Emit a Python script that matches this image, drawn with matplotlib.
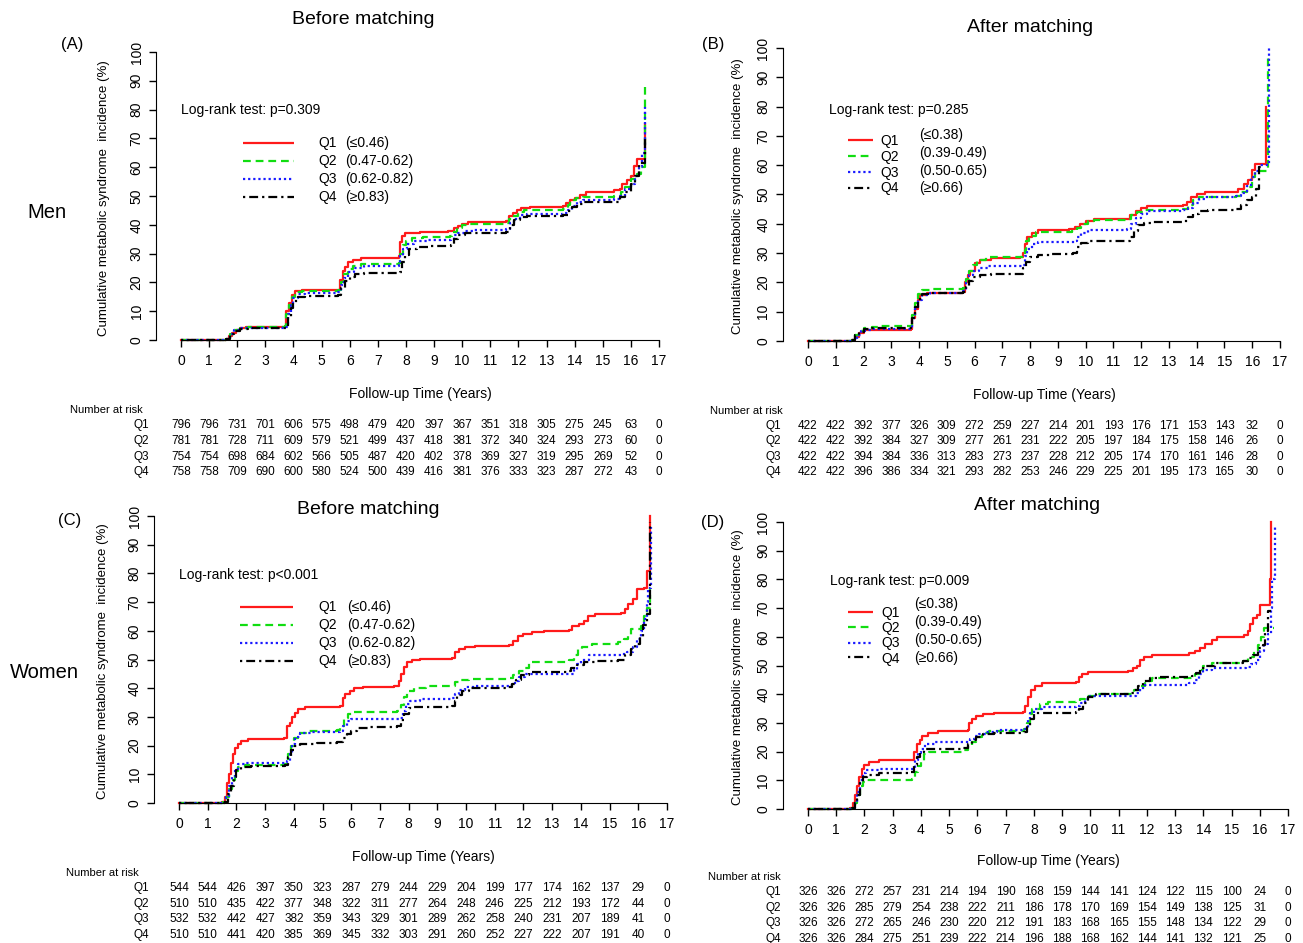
import matplotlib
matplotlib.use("Agg")
import matplotlib.pyplot as plt
from matplotlib.lines import Line2D
from matplotlib.transforms import blended_transform_factory

plt.rcParams['font.family'] = ['Liberation Sans', 'DejaVu Sans']

# ---------------- data ----------------
years = list(range(18))
groups = ["Q1", "Q2", "Q3", "Q4"]
ranges_before = ["(\u22640.46)", "(0.47-0.62)", "(0.62-0.82)", "(\u22650.83)"]
ranges_after = ["(\u22640.38)", "(0.39-0.49)", "(0.50-0.65)", "(\u22650.66)"]

# (A) men, before matching: (time, cumulative incidence %)
men_before_q1 = [(0,0),(1.6,0.5),(1.7,1.5),(1.8,2.5),(1.95,3.5),(2.1,4.2),(2.3,4.5),(3.7,4.8),(3.75,10),(3.85,13),(3.95,15.5),(4.05,17),(4.3,17.3),(5.6,17.5),(5.65,21),(5.75,24),(5.85,25.5),(5.95,27),(6.1,27.8),(6.4,28.5),(7.75,29),(7.8,34),(7.85,36),(7.95,37),(8.1,37.3),(8.5,37.6),(9.5,38),(9.7,38.8),(9.85,39.5),(10.0,40.3),(10.2,41),(11.55,41.3),(11.65,43),(11.8,44),(11.95,45),(12.1,45.8),(12.4,46.3),(13.6,46.6),(13.7,47.5),(13.85,48.5),(14.0,49.3),(14.2,50.3),(14.4,51.5),(15.4,52),(15.6,52.5),(15.7,54),(15.85,55.5),(16.0,57),(16.1,60.5),(16.2,63),(16.5,75)]
men_before_q2 = [(0,0),(1.6,0.5),(1.75,2),(1.9,3.5),(2.1,4.2),(2.4,4.4),(3.7,4.7),(3.75,9),(3.85,12),(3.95,15),(4.05,16.5),(4.3,17),(5.6,17.3),(5.7,20),(5.8,23),(5.95,24.8),(6.1,25.8),(6.4,26.3),(7.75,26.8),(7.8,30),(7.9,33),(8.0,34.5),(8.2,35.3),(8.6,35.6),(9.55,36),(9.65,37.5),(9.8,38.8),(10.0,39.8),(10.2,40.3),(11.55,40.6),(11.65,42),(11.8,43),(12.0,44.3),(12.2,45),(13.6,45.4),(13.75,47),(13.85,48.5),(14.05,49.3),(14.3,49.7),(15.4,50),(15.65,51.5),(15.8,53),(16.0,56),(16.2,57.5),(16.35,60),(16.5,88)]
men_before_q3 = [(0,0),(1.6,0.5),(1.75,2),(1.9,3.3),(2.1,4),(2.4,4.2),(3.7,4.4),(3.8,9),(3.9,12),(4.0,14.5),(4.15,15.8),(4.4,16.2),(5.6,16.5),(5.7,19),(5.8,21.5),(5.95,23.5),(6.15,25),(6.5,25.6),(7.75,26),(7.8,29),(7.9,31.5),(8.05,33.5),(8.3,34.3),(8.8,34.7),(9.6,35.2),(9.7,36.5),(9.85,37.3),(10.1,38),(10.4,38.3),(11.55,38.6),(11.7,40.5),(11.85,42),(12.05,43.3),(12.3,43.8),(13.6,44),(13.75,45),(13.9,46.5),(14.1,47.8),(14.3,48.5),(15.4,49),(15.6,50),(15.8,52.5),(16.0,54),(16.15,57),(16.3,60),(16.4,65),(16.5,81)]
men_before_q4 = [(0,0),(1.6,0.5),(1.75,2),(1.9,3.2),(2.1,3.8),(2.4,4),(3.7,4.1),(3.8,8),(3.9,11),(4.0,13.5),(4.15,15),(4.4,15.3),(5.6,15.5),(5.7,18),(5.85,20.5),(6.0,22),(6.2,23),(6.5,23.4),(7.8,23.7),(7.85,27),(7.95,29.5),(8.1,31.5),(8.4,32.3),(8.8,32.6),(9.6,33),(9.7,35),(9.85,36.3),(10.1,37),(10.4,37.3),(11.55,37.5),(11.7,40),(11.85,41.8),(12.05,42.8),(12.3,43.2),(13.6,43.5),(13.75,44.8),(13.9,46.3),(14.1,47.3),(14.3,47.8),(15.4,48),(15.6,49.5),(15.8,51.5),(16.0,54),(16.15,57),(16.3,61.5),(16.5,70)]

# (B) men, after matching
men_after_q1 = [(0,0),(1.6,0.5),(1.7,1.5),(1.85,2.8),(2.0,3.6),(2.3,3.9),(3.7,4.1),(3.75,8),(3.85,11),(3.95,14),(4.05,15.8),(4.3,16.5),(5.6,16.8),(5.65,20),(5.75,22.5),(5.85,24),(6.0,26.5),(6.2,27.8),(6.6,28.2),(7.65,28.5),(7.75,30),(7.8,33),(7.9,35.5),(8.05,37),(8.3,37.8),(9.4,38.2),(9.6,38.8),(9.8,39.8),(10.0,40.8),(10.3,41.5),(11.5,41.8),(11.6,43),(11.8,44.3),(12.0,45.5),(12.2,46.2),(13.5,46.5),(13.65,47.5),(13.8,49),(14.0,50.2),(14.3,50.8),(15.2,51),(15.5,52),(15.7,53.5),(15.85,55),(16.0,58.5),(16.1,60.5),(16.5,80)]
men_after_q2 = [(0,0),(1.6,0.5),(1.7,2),(1.85,3.5),(2.0,4.3),(2.3,4.8),(2.6,5),(3.7,5.2),(3.75,9),(3.85,13),(3.95,16),(4.1,17.5),(4.5,17.8),(5.6,18.2),(5.7,21),(5.8,24),(5.95,26),(6.1,27.7),(6.4,28.5),(7.7,28.7),(7.8,31),(7.85,34),(7.95,36),(8.2,37.2),(9.5,37.5),(9.7,38.5),(9.85,40),(10.1,41),(10.3,41.3),(11.5,41.5),(11.65,43),(11.85,44),(12.1,44.8),(13.5,45.2),(13.7,46.5),(13.85,48),(14.1,49.2),(15.4,49.5),(15.6,51),(15.8,52.5),(16.0,56),(16.1,58),(16.55,98)]
men_after_q3 = [(0,0),(1.6,0.5),(1.75,2),(1.9,3.3),(2.05,3.9),(2.3,4.1),(3.7,4.3),(3.75,8),(3.85,11),(3.95,14),(4.1,15.8),(4.4,16.5),(5.6,17),(5.7,20),(5.8,22.5),(5.95,24),(6.15,25),(6.5,25.5),(7.7,25.8),(7.8,29),(7.9,31.5),(8.05,33),(8.3,33.8),(9.6,34.2),(9.7,35.5),(9.85,37),(10.1,37.8),(11.5,38.2),(11.65,40),(11.8,42),(12.0,43.5),(12.2,44.3),(13.5,44.6),(13.7,45.5),(13.85,47),(14.1,48.5),(14.3,49.2),(15.4,49.4),(15.6,50.5),(15.8,53),(15.95,56),(16.1,58),(16.25,60),(16.6,100)]
men_after_q4 = [(0,0),(1.55,0.5),(1.7,2),(1.85,3.2),(2.0,4),(2.3,4.5),(3.7,4.6),(3.75,8),(3.85,11.5),(3.95,14.5),(4.1,16),(4.4,16.3),(5.6,16.6),(5.7,18.5),(5.8,20.5),(5.95,21.8),(6.2,22.4),(6.6,22.7),(7.7,23),(7.75,25),(7.85,27),(8.0,28.5),(8.3,29.5),(8.7,29.8),(9.55,30.2),(9.7,32),(9.85,33.3),(10.1,34),(11.5,34.3),(11.6,35.5),(11.75,37.5),(11.9,39.5),(12.1,40.3),(12.4,40.6),(13.5,40.8),(13.7,42.3),(13.85,43.5),(14.1,44.3),(14.4,44.6),(15.4,44.9),(15.6,46.5),(15.8,48),(16.0,49.2),(16.15,52),(16.25,59.5),(16.35,59.5)]

# (C) women, before matching
women_before_q1 = [(0,0),(1.5,0.5),(1.6,2),(1.68,7),(1.75,10),(1.8,14),(1.88,17),(1.95,19),(2.05,20.5),(2.15,21.5),(2.4,22.2),(2.7,22.4),(3.65,22.8),(3.75,27),(3.85,28),(3.95,30),(4.05,31.5),(4.15,32.7),(4.4,33.3),(4.8,33.6),(5.6,33.9),(5.7,36.5),(5.8,38),(5.95,39),(6.1,40),(6.4,40.3),(7.5,40.8),(7.65,42.5),(7.75,45),(7.85,47.5),(7.95,49),(8.1,49.7),(8.4,50.1),(9.5,50.5),(9.6,52.5),(9.75,53.5),(9.95,54.3),(10.3,54.8),(11.5,55.2),(11.65,56.5),(11.8,58.3),(12.0,59),(12.3,59.6),(12.7,60),(13.6,60.2),(13.7,61.5),(13.95,62.5),(14.1,63.5),(14.25,65),(14.5,66),(15.4,66.3),(15.55,67.5),(15.65,69.5),(15.8,71),(15.95,74.5),(16.2,75),(16.3,81),(16.4,100)]
women_before_q2 = [(0,0),(1.55,0.5),(1.65,2),(1.75,5),(1.85,8),(1.95,11),(2.05,12.5),(2.3,13.2),(3.7,13.5),(3.8,17),(3.9,20),(4.0,22.5),(4.15,24.3),(4.5,25),(5.5,25.3),(5.6,27),(5.75,29.5),(5.9,31),(6.1,31.6),(7.6,32),(7.75,34),(7.85,37),(7.95,39),(8.2,40),(8.6,40.6),(9.5,40.8),(9.6,42),(9.8,43),(10.1,43.2),(11.5,43.4),(11.65,44.5),(11.85,46),(12.05,47),(12.2,49.3),(13.6,49.7),(13.75,51.5),(13.9,53.5),(14.05,54.5),(14.4,55.5),(15.3,56),(15.5,57),(15.65,58.5),(15.75,60.5),(16.1,61.5),(16.2,65),(16.3,68),(16.4,75)]
women_before_q3 = [(0,0),(1.55,0.5),(1.65,2),(1.75,6),(1.85,9),(1.95,12),(2.05,13.5),(2.3,14),(3.75,14.5),(3.85,17),(3.95,20.5),(4.05,23),(4.2,24.5),(4.6,24.8),(5.6,25),(5.7,27),(5.85,28.5),(6.0,29.3),(7.65,29.7),(7.8,32),(7.9,34.5),(8.05,35.5),(8.4,36.2),(9.5,36.6),(9.6,38),(9.75,39.5),(9.95,40.3),(10.3,40.8),(11.5,41),(11.7,42.5),(11.85,44),(12.05,44.8),(13.6,45),(13.75,46.5),(13.85,48.5),(14.0,50),(14.3,51.5),(15.4,51.8),(15.6,52.5),(15.8,54.5),(15.95,57),(16.1,60),(16.2,64),(16.3,70),(16.35,75),(16.45,96)]
women_before_q4 = [(0,0),(1.6,0.5),(1.7,3),(1.8,6),(1.9,9),(2.0,11.5),(2.15,12.6),(2.5,13),(3.7,13.3),(3.8,16),(3.9,18.5),(4.0,20),(4.2,20.6),(4.8,21),(5.5,21.3),(5.7,22.5),(5.85,24),(6.0,25),(6.2,26),(6.6,26.6),(7.6,26.9),(7.75,29),(7.85,31),(8.0,33),(8.2,33.6),(9.5,33.9),(9.6,35.5),(9.7,37.5),(9.85,39),(10.1,40),(11.4,40.3),(11.6,41.5),(11.75,43),(11.9,44.5),(12.2,45.5),(12.5,45.8),(13.5,46),(13.65,47),(13.85,48),(14.1,49),(14.5,49.5),(15.3,49.8),(15.55,51.5),(15.75,53.5),(15.9,55.5),(16.05,58),(16.15,62),(16.3,66),(16.4,98)]

# (D) women, after matching
women_after_q1 = [(0,0),(1.5,0.5),(1.6,2),(1.68,5),(1.75,8),(1.82,11),(1.9,14),(2.0,15.5),(2.15,16.5),(2.5,17),(3.65,17.2),(3.75,20),(3.85,22.5),(3.95,24),(4.05,25.5),(4.25,26.5),(4.6,27.2),(5.65,27.5),(5.7,30),(5.8,31.5),(5.95,32.3),(6.2,33),(6.6,33.5),(7.6,33.8),(7.7,36),(7.8,39),(7.9,41.5),(8.05,43),(8.3,43.8),(9.5,44.2),(9.6,46),(9.7,47),(9.9,47.8),(11.35,48.2),(11.5,49),(11.65,50),(11.75,52),(11.9,53),(12.2,53.8),(13.5,54.2),(13.7,55),(13.9,56),(14.05,57.5),(14.3,58.8),(14.5,60),(15.45,60.5),(15.6,62),(15.65,64.5),(15.75,66.5),(15.9,67.5),(16.0,71),(16.35,80),(16.4,100)]
women_after_q2 = [(0,0),(1.55,0.5),(1.65,2),(1.75,5),(1.85,8),(1.95,9.5),(2.1,10.2),(3.7,10.5),(3.8,13),(3.9,15),(4.0,16.5),(4.1,19),(4.3,20),(5.5,20.5),(5.65,22),(5.8,23.5),(5.95,25),(6.15,26.5),(6.4,27.3),(7.65,28),(7.75,30),(7.85,33),(7.95,35),(8.2,36.5),(8.5,37.3),(9.5,37.6),(9.65,38.5),(9.8,39.5),(10.2,40),(11.4,40.2),(11.55,41.5),(11.75,43),(11.95,44.5),(12.2,45.5),(13.5,45.8),(13.7,47),(13.85,48.5),(14.0,50),(14.3,51),(15.4,51.7),(15.6,53),(15.8,55),(15.95,57),(16.05,60),(16.15,63),(16.5,63)]
women_after_q3 = [(0,0),(1.55,0.5),(1.65,2),(1.75,6),(1.85,10),(1.95,12.5),(2.05,13.5),(2.5,13.8),(3.7,14),(3.8,17),(3.9,19.5),(4.0,21),(4.15,22.5),(4.5,23.2),(5.65,23.5),(5.75,24.5),(5.9,25.5),(6.05,26.3),(6.3,27),(6.7,27.7),(7.7,28),(7.8,31),(7.85,33.5),(8.0,35),(8.3,35.7),(9.5,36),(9.65,37),(9.8,38.5),(10.0,39.3),(11.4,39.5),(11.6,40.5),(11.75,42),(11.95,43.3),(13.5,43.8),(13.7,45),(13.85,47),(14.0,48.3),(14.3,49.2),(15.5,49.5),(15.7,50.5),(15.85,52),(16.0,55),(16.15,57.5),(16.3,61),(16.4,70),(16.45,80),(16.55,99)]
women_after_q4 = [(0,0),(1.55,0.5),(1.65,2),(1.75,5),(1.85,9),(1.95,11),(2.1,12),(2.5,12.5),(3.65,12.8),(3.75,15.5),(3.85,18),(3.95,20),(4.1,21),(5.5,21.3),(5.65,22.5),(5.8,24),(5.95,25),(6.2,26),(6.6,26.5),(7.65,27),(7.75,29),(7.85,31.5),(8.0,33.3),(9.5,33.8),(9.6,35),(9.75,37),(9.9,39),(10.2,40),(11.4,40.3),(11.55,41.5),(11.7,43),(11.85,44.5),(12.1,45.5),(12.4,46),(13.6,46.3),(13.75,47.5),(13.9,49),(14.1,50),(14.4,51),(15.4,51.5),(15.6,52.5),(15.75,53.8),(15.95,56),(16.1,57),(16.2,62),(16.3,69),(16.4,69)]

# numbers at risk (one value per year 0..17)
risk_men_before_q1 = [796, 796, 731, 701, 606, 575, 498, 479, 420, 397, 367, 351, 318, 305, 275, 245, 63, 0]
risk_men_before_q2 = [781, 781, 728, 711, 609, 579, 521, 499, 437, 418, 381, 372, 340, 324, 293, 273, 60, 0]
risk_men_before_q3 = [754, 754, 698, 684, 602, 566, 505, 487, 420, 402, 378, 369, 327, 319, 295, 269, 52, 0]
risk_men_before_q4 = [758, 758, 709, 690, 600, 580, 524, 500, 439, 416, 381, 376, 333, 323, 287, 272, 43, 0]

risk_men_after_q1 = [422, 422, 392, 377, 326, 309, 272, 259, 227, 214, 201, 193, 176, 171, 153, 143, 32, 0]
risk_men_after_q2 = [422, 422, 392, 384, 327, 309, 277, 261, 231, 222, 205, 197, 184, 175, 158, 146, 26, 0]
risk_men_after_q3 = [422, 422, 394, 384, 336, 313, 283, 273, 237, 228, 212, 205, 174, 170, 161, 146, 28, 0]
risk_men_after_q4 = [422, 422, 396, 386, 334, 321, 293, 282, 253, 246, 229, 225, 201, 195, 173, 165, 30, 0]

risk_women_before_q1 = [544, 544, 426, 397, 350, 323, 287, 279, 244, 229, 204, 199, 177, 174, 162, 137, 29, 0]
risk_women_before_q2 = [510, 510, 435, 422, 377, 348, 322, 311, 277, 264, 248, 246, 225, 212, 193, 172, 44, 0]
risk_women_before_q3 = [532, 532, 442, 427, 382, 359, 343, 329, 301, 289, 262, 258, 240, 231, 207, 189, 41, 0]
risk_women_before_q4 = [510, 510, 441, 420, 385, 369, 345, 332, 303, 291, 260, 252, 227, 222, 207, 191, 40, 0]

risk_women_after_q1 = [326, 326, 272, 257, 231, 214, 194, 190, 168, 159, 144, 141, 124, 122, 115, 100, 24, 0]
risk_women_after_q2 = [326, 326, 285, 279, 254, 238, 222, 211, 186, 178, 170, 169, 154, 149, 138, 125, 31, 0]
risk_women_after_q3 = [326, 326, 272, 265, 246, 230, 220, 212, 191, 183, 168, 165, 155, 148, 134, 122, 29, 0]
risk_women_after_q4 = [326, 326, 284, 275, 251, 239, 222, 214, 196, 188, 168, 162, 144, 141, 132, 121, 25, 0]

pvalues = ["p=0.309", "p=0.285", "p<0.001", "p=0.009"]

# ---------------- styling ----------------
colors = ["#ff1a1a", "#11dd11", "#1a1aff", "black"]
dash_styles = [None, (3.5, 2.2), (1.0, 1.3), (1.0, 1.8, 4.0, 1.8)]

W, H = 1303, 943


def fx(x):
    return x / W


def fy(y):
    return 1 - y / H


fig = plt.figure(figsize=(W / 100, H / 100), dpi=100)


def add_line(ax_or_fig, xs, ys, i, transform, lw=1.6):
    kw = dict(color=colors[i], lw=lw, solid_capstyle='butt', dash_capstyle='butt')
    if dash_styles[i] is not None:
        kw['dashes'] = dash_styles[i]
    return Line2D(xs, ys, transform=transform, **kw)


def draw_panel(box, curves, risk, ranges, pval, layout):
    x0, x17, y0, y100 = box
    ax = fig.add_axes([fx(x0), fy(y0), (x17 - x0) / W, (y0 - y100) / H])
    ax.set_xlim(0, 17)
    ax.set_ylim(0, 100)
    for s in ['top', 'right']:
        ax.spines[s].set_visible(False)
    ax.spines['left'].set_position(('outward', 18))
    ax.spines['left'].set_bounds(0, 100)
    ax.spines['bottom'].set_bounds(0, 17)
    ax.set_xticks(years)
    ax.set_yticks(range(0, 101, 10))
    ax.tick_params(axis='both', length=5, width=1, labelsize=10, pad=5)
    ax.tick_params(axis='y', labelrotation=90, pad=4)
    for lab in ax.get_yticklabels():
        lab.set_va('center')
    ax.patch.set_alpha(0)

    for i, c in enumerate(curves):
        t = [p[0] for p in c]
        v = [p[1] for p in c]
        kw = dict(color=colors[i], lw=1.6, drawstyle='steps-post', clip_on=False)
        if dash_styles[i] is not None:
            kw['dashes'] = dash_styles[i]
        ax.plot(t, v, **kw)

    # axis labels
    fig.text(fx(layout['ylab_x']), fy((y0 + y100) / 2 + 2),
             "Cumulative metabolic syndrome  incidence (%)",
             rotation=90, ha='center', va='center', fontsize=9.5)
    fig.text(fx((x0 + x17) / 2), fy(layout['xlab_y']), "Follow-up Time (Years)",
             ha='center', va='center', fontsize=10)
    fig.text(fx(layout['title'][0]), fy(layout['title'][1]), layout['title_txt'],
             ha='center', va='center', fontsize=14)
    fig.text(fx(layout['tag'][0]), fy(layout['tag'][1]), layout['tag_txt'],
             ha='center', va='center', fontsize=12)

    # log-rank
    fig.text(fx(layout['lr'][0]), fy(layout['lr'][1]), "Log-rank test: " + pval,
             ha='left', va='center', fontsize=10)

    # legend
    lg = layout['leg']
    for i in range(4):
        yl = lg['line_y'][i]
        fig.add_artist(add_line(fig, [fx(lg['x0']), fx(lg['x1'])], [fy(yl), fy(yl)],
                                i, fig.transFigure))
        fig.text(fx(lg['qx']), fy(lg['q_y'][i]), groups[i], ha='left', va='center',
                 fontsize=10)
        fig.text(fx(lg['rx']), fy(lg['r_y'][i]), ranges[i], ha='left', va='center',
                 fontsize=10)

    # number at risk table
    rk = layout['risk']
    trans = blended_transform_factory(ax.transData, fig.transFigure)
    fig.text(fx(rk['head'][0]), fy(rk['head'][1]), "Number at risk", ha='left',
             va='center', fontsize=8)
    for i, row in enumerate(risk):
        yr = rk['rows'][i]
        fig.text(fx(rk['qx']), fy(yr), groups[i], ha='center', va='center', fontsize=8.5)
        for yr_i, n in zip(years, row):
            ax.text(yr_i, fy(yr), str(n), transform=trans, ha='center', va='center',
                    fontsize=8.5)
    return ax


layout_a = dict(ylab_x=104, xlab_y=394, title=(363, 20), title_txt="Before matching",
                tag=(72, 45), tag_txt="(A)", lr=(181, 110),
                leg=dict(x0=243, x1=294, line_y=[143, 161, 179, 197], qx=318,
                         q_y=[143, 161, 179, 197], rx=345, r_y=[143, 161, 179, 197]),
                risk=dict(head=(70, 410), qx=141, rows=[425, 441, 457, 472]))
layout_b = dict(ylab_x=738, xlab_y=395, title=(1030, 27), title_txt="After matching",
                tag=(713, 45), tag_txt="(B)", lr=(829, 110),
                leg=dict(x0=848, x1=873, line_y=[140, 156, 172, 188], qx=880,
                         q_y=[141, 157, 173, 188], rx=919, r_y=[135, 153, 171, 188]),
                risk=dict(head=(710, 411), qx=773, rows=[426, 441, 457, 472]))
layout_c = dict(ylab_x=103, xlab_y=857, title=(368, 509), title_txt="Before matching",
                tag=(70, 520), tag_txt="(C)", lr=(179, 575),
                leg=dict(x0=240, x1=293, line_y=[607, 625, 643, 661], qx=318,
                         q_y=[607, 625, 643, 661], rx=347, r_y=[607, 625, 643, 661]),
                risk=dict(head=(66, 873), qx=141, rows=[888, 904, 919, 935]))
layout_d = dict(ylab_x=738, xlab_y=861, title=(1037, 505), title_txt="After matching",
                tag=(713, 522), tag_txt="(D)", lr=(830, 581),
                leg=dict(x0=848, x1=873, line_y=[612, 627, 643, 657], qx=881,
                         q_y=[613, 628, 643, 659], rx=914, r_y=[604, 622, 640, 658]),
                risk=dict(head=(708, 877), qx=773, rows=[892, 908, 923, 939]))

draw_panel((181, 659, 340, 52),
           [men_before_q1, men_before_q2, men_before_q3, men_before_q4],
           [risk_men_before_q1, risk_men_before_q2, risk_men_before_q3, risk_men_before_q4],
           ranges_before, pvalues[0], layout_a)
draw_panel((808, 1280, 341, 48),
           [men_after_q1, men_after_q2, men_after_q3, men_after_q4],
           [risk_men_after_q1, risk_men_after_q2, risk_men_after_q3, risk_men_after_q4],
           ranges_after, pvalues[1], layout_b)
draw_panel((179, 667, 803, 516),
           [women_before_q1, women_before_q2, women_before_q3, women_before_q4],
           [risk_women_before_q1, risk_women_before_q2, risk_women_before_q3, risk_women_before_q4],
           ranges_before, pvalues[2], layout_c)
draw_panel((808, 1288, 809, 522),
           [women_after_q1, women_after_q2, women_after_q3, women_after_q4],
           [risk_women_after_q1, risk_women_after_q2, risk_women_after_q3, risk_women_after_q4],
           ranges_after, pvalues[3], layout_d)

fig.text(fx(47), fy(213), "Men", ha='center', va='center', fontsize=14.5)
fig.text(fx(44), fy(673), "Women", ha='center', va='center', fontsize=14.5)

fig.savefig("out.png", dpi=100)
